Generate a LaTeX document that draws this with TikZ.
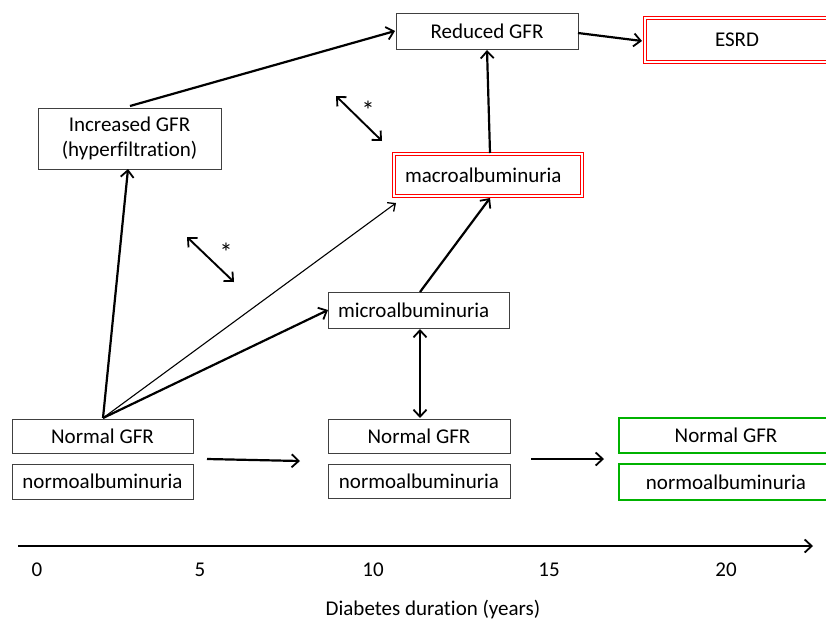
\documentclass[tikz,border=0pt]{standalone}
\usepackage{fontspec}
\setmainfont{Carlito}[Ligatures=NoCommon]
\usetikzlibrary{arrows.meta}
\begin{document}
\begin{tikzpicture}[x=1pt,y=-1pt,
  fnt/.style={font=\fontsize{21}{25}\selectfont},
  box/.style={draw=black!75,line width=1pt,rectangle,inner sep=0pt,fnt},
  redbox/.style={draw=red,double=white,double distance=1.8pt,line width=1.1pt,rectangle,inner sep=0pt,fnt},
  greenbox/.style={draw=green!70!black,line width=1.5pt,rectangle,inner sep=0pt,fnt},
  thk/.style={line width=2.2pt,-{Straight Barb[length=7pt,width=13pt,line width=1.8pt]}},
  thn/.style={line width=1.1pt,-{Straight Barb[length=6pt,width=11pt,line width=1.3pt]}},
  dbl/.style={line width=2.2pt,{Straight Barb[length=7pt,width=13pt,line width=1.8pt]}-{Straight Barb[length=7pt,width=13pt,line width=1.8pt]}},
  lbl/.style={fnt,inner sep=0pt},
  astl/.style={font=\fontsize{26}{30}\selectfont,inner sep=0pt}
]
\useasboundingbox (0,0) rectangle (826,619);
\fill[white] (0,0) rectangle (826,619);

% boxes
\node[box,minimum width=182pt,minimum height=36pt] (red) at (487,31) {Reduced GFR};
\node[redbox,minimum width=184pt,minimum height=44pt] (esrd) at (737,40) {ESRD};
\node[box,minimum width=183pt,minimum height=61pt,align=center] (inc) at (129.5,138.5) {Increased GFR\\(hyperfiltration)};
\node[redbox,minimum width=188pt,minimum height=42pt,text width=166pt,inner xsep=11pt,align=left] (macro) at (488,175) {macroalbuminuria};
\node[box,minimum width=181pt,minimum height=36pt,text width=161pt,inner xsep=10pt,align=left] (micro) at (418.5,310) {microalbuminuria};

\node[box,minimum width=181pt,minimum height=34pt] (n1) at (102.5,436) {Normal GFR};
\node[box,minimum width=181pt,minimum height=35pt] (a1) at (102.5,481.5) {normoalbuminuria};
\node[box,minimum width=182pt,minimum height=34pt] (n2) at (419,436) {Normal GFR};
\node[box,minimum width=182pt,minimum height=34pt] (a2) at (419,481) {normoalbuminuria};
\node[greenbox,minimum width=214pt,minimum height=35pt] (n3) at (726,435.5) {Normal GFR};
\node[greenbox,minimum width=214pt,minimum height=36pt] (a3) at (726,482) {normoalbuminuria};

% helper coordinates
\coordinate (src) at (103,418);
\coordinate (incb) at (128,169);
\coordinate (inct) at (130,106);
\coordinate (redl) at (395,31);
\coordinate (redr) at (578,33);
\coordinate (esrdl) at (642,41);
\coordinate (redb) at (487,50);
\coordinate (macrot) at (490,153);
\coordinate (macrob) at (490,198);
\coordinate (macrobl) at (396,203);
\coordinate (microl) at (328,310);
\coordinate (microt) at (420,292);
\coordinate (microb) at (420,329);
\coordinate (n2t) at (420,418);

% connectors
\draw[thk] (inct) -- (redl);
\draw[thk] (redr) -- (esrdl);
\draw[thk] (macrot) -- (redb);
\draw[thk] (src) -- (incb);
\draw[thn] (src) -- (macrobl);
\draw[thk] (src) -- (microl);
\draw[thk] (microt) -- (macrob);
\draw[dbl] (microb) -- (n2t);

% asterisk arrows
\coordinate (s1a) at (336,96);
\coordinate (s1b) at (382,141);
\coordinate (s2a) at (187,237);
\coordinate (s2b) at (234,282);
\draw[dbl,line width=1.9pt] (s1a) -- (s1b);
\draw[dbl,line width=1.9pt] (s2a) -- (s2b);
\node[astl] (ast1) at (368,110) {*};
\node[astl] (ast2) at (226,252) {*};

% time arrows
\coordinate (t1a) at (207,459);
\coordinate (t1b) at (300,461);
\coordinate (t2a) at (531,459);
\coordinate (t2b) at (604,459);
\draw[thk] (t1a) -- (t1b);
\draw[thk] (t2a) -- (t2b);

% axis
\coordinate (ax0) at (18,546);
\coordinate (ax1) at (813,546);
\draw[thk] (ax0) -- (ax1);
\node[lbl] (l0) at (37,570) {0};
\node[lbl] (l5) at (200,570) {5};
\node[lbl] (l10) at (373,570) {10};
\node[lbl] (l15) at (549,570) {15};
\node[lbl] (l20) at (726,570) {20};
\node[lbl] (xlab) at (433,609) {Diabetes duration (years)};
\end{tikzpicture}
\end{document}
